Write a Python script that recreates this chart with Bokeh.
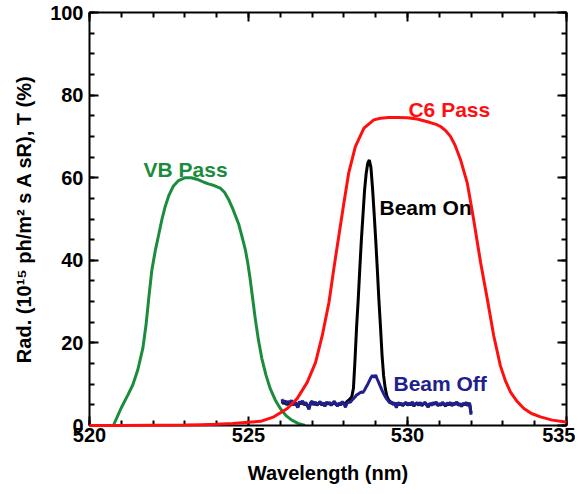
from bokeh.plotting import figure
from bokeh.models import Range1d, LinearAxis, SingleIntervalTicker, CustomLabelingPolicy
from bokeh.core.properties import value
from bokeh.embed import file_html
from bokeh.resources import INLINE
import numpy as np

# ---- data ----
vb_wl = [520.75, 521.0, 521.2, 521.36, 521.52, 521.68, 521.78, 521.86, 521.96,
         522.07, 522.17, 522.28, 522.38, 522.5, 522.64, 522.8, 523.01, 523.2,
         523.43, 523.6, 523.74, 523.92, 524.11, 524.25, 524.37, 524.52, 524.69,
         524.8, 524.9, 524.98, 525.05, 525.13, 525.21, 525.31, 525.42, 525.55,
         525.68, 525.84, 526.0, 526.18, 526.36, 526.56, 526.78]
vb_pass = [0.0, 4.3, 7.3, 9.8, 13.5, 18.8, 24.5, 30.6, 37.6,
           42.4, 46.0, 50.0, 53.0, 55.8, 58.0, 59.3, 60.0, 60.0,
           59.5, 58.9, 58.5, 58.1, 57.5, 56.4, 54.8, 52.2, 48.8,
           45.6, 42.6, 39.2, 35.6, 30.8, 26.0, 20.8, 16.2, 12.2,
           9.0, 6.2, 4.1, 2.4, 1.3, 0.5, 0.0]

c6_wl = [520.0, 521.0, 522.0, 523.0, 523.5, 524.0, 524.5, 525.0, 525.38,
         525.8, 526.22, 526.53, 526.85, 527.11, 527.32, 527.53, 527.68,
         527.84, 528.0, 528.15, 528.36, 528.63, 528.94, 529.15, 529.4,
         529.7, 530.0, 530.3, 530.6, 530.9, 531.04, 531.2, 531.35, 531.5,
         531.67, 531.88, 532.08, 532.3, 532.51, 532.71, 532.92, 533.08,
         533.24, 533.45, 533.66, 533.9, 534.18, 534.55, 534.92, 535.0]
c6_pass = [0.0, 0.0, 0.05, 0.1, 0.2, 0.3, 0.5, 0.8, 1.0,
           2.1, 4.1, 6.5, 10.5, 15.3, 21.8, 29.8, 37.8,
           45.9, 53.9, 61.1, 67.5, 72.0, 74.0, 74.4, 74.6,
           74.6, 74.5, 74.2, 73.6, 72.9, 72.4, 71.4, 70.0, 67.8,
           64.3, 58.7, 49.9, 39.4, 30.6, 21.8, 14.5, 10.8,
           8.1, 5.8, 4.1, 2.9, 2.1, 1.3, 0.9, 0.8]

# spectrometer samples, 526.05 ... 532.00 nm
beam_wl = np.linspace(526.05, 532.0, 120)
beam_on = [5.9, 5.3, 5.7, 5.0, 5.6, 5.2, 5.8, 4.9, 5.5, 5.1,
           4.5, 5.6, 5.2, 5.8, 5.0, 5.4, 4.8, 4.2, 5.3, 5.7,
           5.0, 5.5, 4.9, 5.3, 5.6, 5.0, 5.4, 4.8, 5.5, 5.2,
           5.4, 4.9, 5.3, 5.7, 5.1, 4.8, 5.4, 5.0, 5.6, 5.2,
           5.4, 5.8, 6.1, 6.5, 7.0, 9.0, 16.0, 24.0, 30.5, 38.0,
           45.0, 51.0, 57.0, 61.0, 63.5, 64.3, 62.5, 57.5, 51.5, 45.0,
           38.0, 30.5, 24.0, 17.0, 12.0, 9.0, 7.2, 6.3, 5.8, 5.5,
           5.1, 5.4, 4.6, 5.5, 5.0, 5.3, 4.8, 5.2, 5.5, 4.9,
           5.3, 5.0, 5.6, 4.7, 5.2, 5.4, 4.9, 5.5, 4.8, 5.2,
           5.5, 5.0, 4.5, 5.3, 4.9, 5.4, 5.1, 5.6, 4.8, 5.2,
           4.9, 5.5, 5.1, 4.7, 5.4, 5.0, 5.5, 4.8, 5.3, 5.1,
           5.6, 4.9, 5.2, 4.6, 5.3, 5.0, 5.5, 4.8, 5.4, 3.0]
beam_off = [6.4, 5.5, 6.0, 5.2, 5.9, 5.4, 6.1, 5.0, 5.7, 5.3,
            4.3, 5.8, 5.4, 6.0, 5.1, 5.6, 4.9, 3.9, 5.5, 5.9,
            5.2, 5.7, 5.0, 5.4, 5.8, 5.1, 5.5, 4.6, 5.7, 5.3,
            5.6, 5.0, 5.4, 5.9, 5.2, 4.7, 5.5, 5.1, 5.8, 5.3,
            4.4, 5.4, 5.7, 5.6, 6.1, 6.5, 6.9, 7.4, 7.6, 7.9,
            8.1, 8.0, 8.6, 9.3, 10.0, 10.8, 11.6, 12.1, 11.7, 12.2,
            11.2, 10.3, 9.4, 8.5, 7.7, 7.0, 6.4, 5.9, 5.4, 5.7,
            5.2, 5.5, 4.3, 5.6, 5.1, 5.4, 4.9, 5.3, 5.6, 5.0,
            5.4, 5.1, 5.7, 4.8, 5.3, 5.5, 5.0, 5.6, 4.9, 5.3,
            5.6, 5.1, 4.4, 5.4, 5.0, 5.5, 5.2, 5.7, 4.9, 5.3,
            5.0, 5.6, 5.2, 4.8, 5.5, 5.1, 5.6, 4.9, 5.4, 5.2,
            5.7, 5.0, 5.3, 4.7, 5.4, 5.1, 5.6, 4.9, 5.5, 2.6]

label_text = ["VB Pass", "C6 Pass", "Beam On", "Beam Off"]
label_wl = [521.7, 530.03, 529.12, 529.56]
label_val = [61.9, 76.6, 52.9, 10.1]
label_color = ["#1b8c3c", "#ff1010", "#000000", "#20208c"]

GREEN = "#1b8c3c"
RED = "#ff1010"
NAVY = "#20208c"
FONT = "Liberation Sans"

p = figure(width=575, height=486, output_backend="svg", toolbar_location=None,
           x_range=Range1d(520, 535), y_range=Range1d(0, 100),
           x_axis_label="Wavelength (nm)",
           y_axis_label="Rad. (10\u00b9\u2075 ph/m\u00b2 s A sR), T (%)")
p.min_border_left = 89
p.min_border_right = 9
p.min_border_top = 12
p.min_border_bottom = 59
p.grid.visible = False
p.outline_line_color = None
p.background_fill_color = "white"
p.border_fill_color = "white"

p.line(vb_wl, vb_pass, line_color=GREEN, line_width=3)
p.line(beam_wl, beam_on, line_color="black", line_width=3)
p.line(beam_wl, beam_off, line_color=NAVY, line_width=3)
red = p.line(c6_wl, c6_pass, line_color=RED, line_width=3)
red.level = "overlay"

p.text(label_wl, label_val, text=label_text, text_color=label_color,
       text_font=value(FONT), text_font_style="bold", text_font_size="21px",
       text_align="left", text_baseline="alphabetic")

# mirrored tick marks on top and right, no labels
no_labels = CustomLabelingPolicy(code="""
    const ks = Array.from(indices)
    for (const k of ks) indices.unset(k)
    return indices
""")
p.add_layout(LinearAxis(major_label_policy=no_labels), "above")
p.add_layout(LinearAxis(major_label_policy=no_labels), "right")

for ax in p.xaxis:
    ax.ticker = SingleIntervalTicker(interval=5, num_minor_ticks=5)
for ax in p.yaxis:
    ax.ticker = SingleIntervalTicker(interval=20, num_minor_ticks=4)

for ax in p.axis:
    ax.axis_line_width = 2
    ax.axis_line_color = "black"
    ax.major_tick_in = 9
    ax.major_tick_out = 0
    ax.minor_tick_in = 5
    ax.minor_tick_out = 0
    ax.major_tick_line_width = 2
    ax.minor_tick_line_width = 2
    ax.major_label_text_font = FONT
    ax.major_label_text_font_style = "bold"
    ax.major_label_text_font_size = "20px"
    ax.major_label_text_color = "black"
    ax.axis_label_text_font = FONT
    ax.axis_label_text_font_style = "bold"
    ax.axis_label_text_font_size = "20px"
    ax.axis_label_text_color = "black"

p.below[0].major_label_standoff = 2
p.below[0].axis_label_standoff = 17
p.left[0].major_label_standoff = 6
p.left[0].axis_label_standoff = 12

for ax in (p.above[0], p.right[0]):
    ax.major_label_text_font_size = "0px"
    ax.major_label_standoff = 0

open("out.html", "w").write(file_html(p, INLINE))
